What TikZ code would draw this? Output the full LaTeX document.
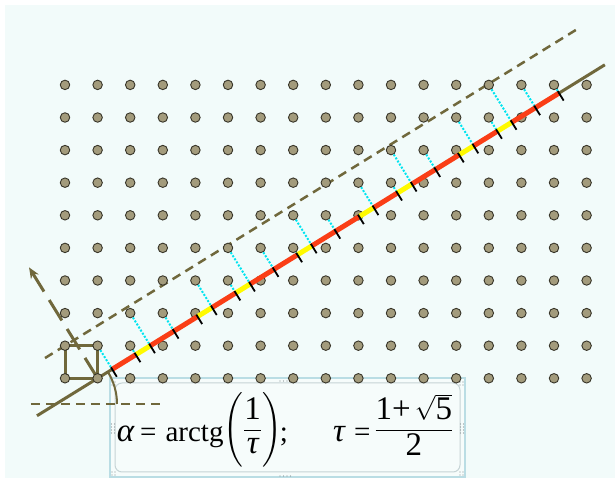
\documentclass[tikz,border=0pt]{standalone}
\usepackage{amsmath}
\usepackage{fontspec}
\setmainfont{Liberation Serif}
\usetikzlibrary{arrows.meta, calc}
\definecolor{mybg}{RGB}{242,251,250}
\definecolor{myolive}{RGB}{112,104,60}
\definecolor{mydot}{RGB}{163,155,124}
\definecolor{mydark}{RGB}{55,52,40}
\definecolor{myred}{RGB}{250,62,22}
\definecolor{myyellow}{RGB}{255,250,0}
\definecolor{mycyan}{RGB}{0,228,240}
\definecolor{myframe}{RGB}{186,221,228}
\definecolor{myinner}{RGB}{198,212,214}
\definecolor{mygrip}{RGB}{135,145,148}
\newcommand{\golden}{1.618034}
\newcommand{\fsym}[1]{\mbox{\fontsize{33}{38}\selectfont #1}}
\tikzset{
  latdot/.style={circle, draw=mydark, fill=mydot, line width=0.9pt,
    minimum size=9.5pt, inner sep=0pt},
  mainline/.style={myolive, line width=3pt},
  edgeline/.style={myolive, line width=2.5pt, dash pattern=on 9pt off 6pt},
  perparrow/.style={-{Stealth[length=11pt,width=9pt]}, myolive, line width=3pt,
    dash pattern=on 24pt off 10pt},
  cellbox/.style={myolive, line width=3pt, line join=round},
  projline/.style={mycyan, line width=2pt, dash pattern=on 2pt off 1.6pt},
  longseg/.style={myred, line width=5pt},
  shortseg/.style={myyellow, line width=5pt},
  tickmark/.style={black, line width=1.8pt},
  outerbox/.style={draw=myframe, fill=white, fill opacity=0.35, line width=1.6pt,
    minimum width=355pt, minimum height=99pt},
  innerbox/.style={draw=myinner, line width=1pt, rounded corners=7pt,
    minimum width=345pt, minimum height=89pt},
  formula/.style={font=\fontsize{29}{34}\selectfont, inner sep=0pt}
}

\begin{document}
\begin{tikzpicture}
  \useasboundingbox (0,0) rectangle (615pt,478pt);
  \fill[mybg] (5pt,0) rectangle (615pt,473pt);
  % Text box frame
  \node[outerbox] (frame) at (287.5pt,50.5pt) {};
  \node[innerbox] (inner) at (frame.center) {};
  \begin{scope}[x=1pt, y=1pt]
    \foreach \x/\y in {112/3, 460/3, 112/93, 460/93}
      \foreach \a in {0,3} \foreach \b in {0,3}
        \fill[mygrip] (\x+\a,\y+\b) circle (0.7pt);
    \foreach \x in {111.5, 460.5} \foreach \a in {0,3} \foreach \b in {0,3,6,9}
      \fill[mygrip] (\x+\a,45+\b) circle (0.7pt);
    \foreach \y in {2, 97} \foreach \a in {0,3.5,7,10.5}
      \fill[mygrip] (280+\a,\y) circle (0.7pt);
  \end{scope}
  \begin{scope}[shift={(65pt,99.7pt)}, x=32.6pt, y=32.6pt]
    \coordinate (o) at (1,0);
    \coordinate (e) at ({1+\golden},1);
    % Strip edges
    \coordinate (mlA) at ({1-1.149*\golden},-1.149);
    \coordinate (mlB) at ({1+9.617*\golden},9.617);
    \coordinate (upA) at ({(0.621-1)*\golden},0.621);
    \coordinate (upB) at ({(10.765-1)*\golden},10.765);
    \draw[edgeline] (upA) -- (upB);
    \draw[mainline] (mlA) -- (mlB);
    % Angle
    \coordinate (v) at ({1-0.788*\golden},-0.788);
    \coordinate (hA) at (-1.043,-0.788);
    \coordinate (hB) at (3.07,-0.788);
    \draw[edgeline] (hA) -- (hB);
    \draw[mainline, line width=2pt] ($(v)+(1.87,0)$) arc[start angle=0, end angle=31.72, radius=1.87];
    % Unit cell and normal
    \draw[cellbox] (0,0) rectangle (1,1);
    \coordinate (ntip) at ($(o)+(121.72:4)$);
    \draw[perparrow] (o) -- (ntip);
    % Lattice
    \foreach \i in {0,...,16}
      \foreach \j in {0,...,9}
        \node[latdot] (d-\i-\j) at (\i,\j) {};
    % Projected points
    \foreach \i/\j [count=\n, remember=\j as \pj (initially 1), remember=\n as \pn (initially 0)] in
      {1/1, 2/1, 2/2, 3/2, 4/2, 4/3, 5/3, 5/4, 6/4, 7/4, 7/5, 8/5,
       9/5, 9/6, 10/6, 10/7, 11/7, 12/7, 12/8, 13/8, 13/9, 14/9, 15/9} {
      \coordinate (p\n) at ($(o)!(d-\i-\j.center)!(e)$);
      \draw[projline] (d-\i-\j) -- (p\n);
      \ifnum\n>1
        \ifnum\j>\pj \draw[shortseg] (p\pn) -- (p\n);
        \else \draw[longseg] (p\pn) -- (p\n);
        \fi
      \fi
    }
    \foreach \n in {1,...,23}
      \draw[tickmark] ($(p\n)+(121.72:0.07)$) -- ($(p\n)+(301.72:0.27)$);
  \end{scope}
  % Formula
  \node[formula, anchor=base west] (alpha) at (116.7pt,36.5pt)
    {\fsym{\itshape α}\hspace{6pt}=\hspace{9pt}arctg\raisebox{5pt}{$\left(\rule[-30pt]{0pt}{72pt}\dfrac{\fsym{1}}{\fsym{\itshape τ}}\right)$}\hspace{-2pt};};
  \node[formula, anchor=base west] (tau) at (333pt,36.5pt)
    {\fsym{\itshape τ}\hspace{9pt}=\hspace{4pt}\raisebox{5pt}{$\dfrac{\fsym{1+}\,\sqrt{\fsym{5}}}{\fsym{2}}$}};
\end{tikzpicture}
\end{document}
